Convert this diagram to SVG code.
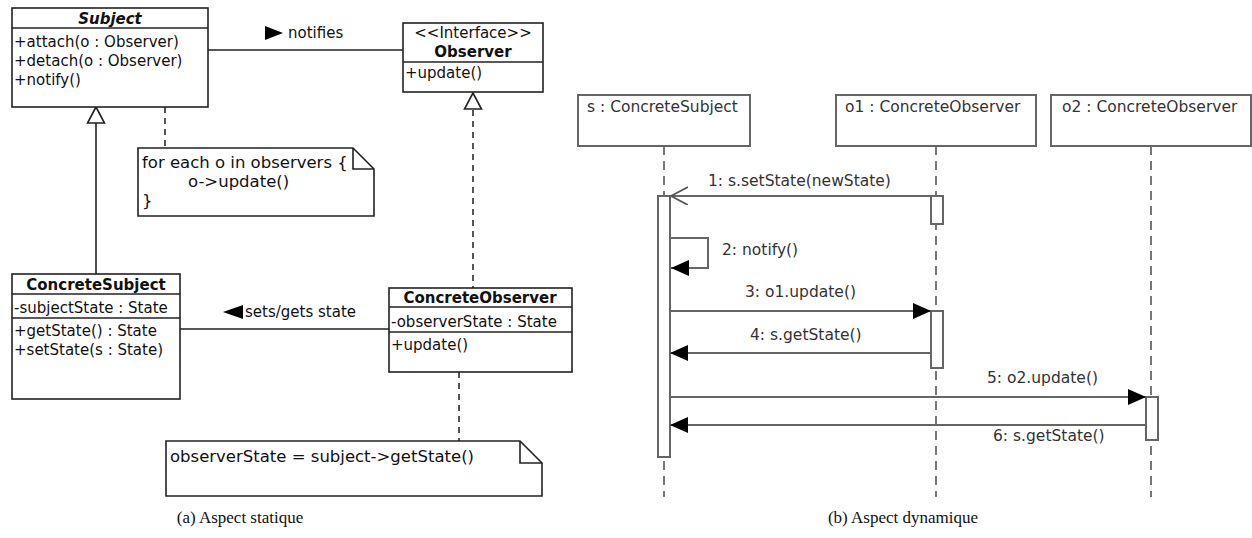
<svg xmlns="http://www.w3.org/2000/svg" width="1252" height="538" viewBox="0 0 1252 538">
<style>
  .cls { fill: #fff; stroke: #222; stroke-width: 1.6; }
  .sep { stroke: #222; stroke-width: 1.6; }
  .t { font-family: "DejaVu Sans", sans-serif; font-size: 15px; fill: #111; }
  .tb { font-family: "DejaVu Sans", sans-serif; font-size: 15px; font-weight: bold; fill: #111; }
  .note { font-family: "DejaVu Sans", sans-serif; font-size: 16.5px; fill: #111; }
  .ln { stroke: #222; stroke-width: 1.6; fill: none; }
  .dl { stroke: #444; stroke-width: 1.8; fill: none; stroke-dasharray: 6 5; }
  .tri { fill: #fff; stroke: #222; stroke-width: 1.6; }
  .obj { fill: #fff; stroke: #666; stroke-width: 2; }
  .life { stroke: #777; stroke-width: 2; stroke-dasharray: 9 6; fill: none; }
  .act { fill: #fff; stroke: #666; stroke-width: 2; }
  .msg { stroke: #666; stroke-width: 2; fill: none; }
  .st { font-family: "DejaVu Sans", sans-serif; font-size: 15.5px; fill: #333; }
  .cap { font-family: "Liberation Serif", serif; font-size: 17px; fill: #111; text-anchor: middle; }
</style>
<defs>
  <marker id="filled" markerWidth="20" markerHeight="18" refX="18" refY="8" orient="auto" markerUnits="userSpaceOnUse">
    <path d="M0,0 L18,8 L0,16 Z" fill="#000"/>
  </marker>
  <marker id="open" markerWidth="20" markerHeight="20" refX="17" refY="9" orient="auto" markerUnits="userSpaceOnUse">
    <path d="M0,0 L17,9 L0,18" fill="none" stroke="#555" stroke-width="1.8"/>
  </marker>
</defs>

<!-- ===== (a) static aspect ===== -->
<g id="connectors-static">
  <line class="ln" x1="208" y1="50" x2="403" y2="50"/>
  <line class="ln" x1="180" y1="329" x2="389" y2="329"/>
  <line class="ln" x1="96" y1="123" x2="96" y2="274"/>
  <polygon class="tri" points="96,107 87.5,123 104.5,123"/>
  <line class="dl" x1="473" y1="110" x2="473" y2="288"/>
  <polygon class="tri" points="473,93 464.5,109 481.5,109"/>
  <line class="dl" x1="165" y1="107" x2="165" y2="148"/>
  <line class="dl" x1="459" y1="372" x2="459" y2="441"/>
  <polygon points="265,26 283,33 265,40" fill="#000"/>
  <text class="t" x="288" y="38">notifies</text>
  <polygon points="243,305 223,312 243,319" fill="#000"/>
  <text class="t" x="245" y="317">sets/gets state</text>
</g>

<g id="subject">
  <rect class="cls" x="12" y="8" width="196" height="99"/>
  <line class="sep" x1="12" y1="28" x2="208" y2="28"/>
  <text class="tb" x="110" y="24" text-anchor="middle" font-style="italic">Subject</text>
  <text class="t" x="14" y="47">+attach(o : Observer)</text>
  <text class="t" x="14" y="66">+detach(o : Observer)</text>
  <text class="t" x="14" y="85">+notify()</text>
</g>

<g id="observer">
  <rect class="cls" x="403" y="23" width="140" height="69"/>
  <line class="sep" x1="403" y1="62" x2="543" y2="62"/>
  <text class="t" x="473" y="38" text-anchor="middle">&lt;&lt;Interface&gt;&gt;</text>
  <text class="tb" x="473" y="57" text-anchor="middle">Observer</text>
  <text class="t" x="405" y="78">+update()</text>
</g>

<g id="note-notify">
  <path class="cls" d="M138,148 L353,148 L374,169 L374,216 L138,216 Z"/>
  <path class="ln" d="M353,148 L353,169 L374,169"/>
  <text class="note" x="142" y="168">for each o in observers {</text>
  <text class="note" x="188" y="187">o-&gt;update()</text>
  <text class="note" x="142" y="206">}</text>
</g>

<g id="concrete-subject">
  <rect class="cls" x="12" y="274" width="168" height="125"/>
  <line class="sep" x1="12" y1="294" x2="180" y2="294"/>
  <line class="sep" x1="12" y1="318" x2="180" y2="318"/>
  <text class="tb" x="96" y="290" text-anchor="middle">ConcreteSubject</text>
  <text class="t" x="14" y="313">-subjectState : State</text>
  <text class="t" x="14" y="336">+getState() : State</text>
  <text class="t" x="14" y="355">+setState(s : State)</text>
</g>

<g id="concrete-observer">
  <rect class="cls" x="389" y="288" width="183" height="84"/>
  <line class="sep" x1="389" y1="307" x2="572" y2="307"/>
  <line class="sep" x1="389" y1="332" x2="572" y2="332"/>
  <text class="tb" x="480" y="303" text-anchor="middle">ConcreteObserver</text>
  <text class="t" x="391" y="327">-observerState : State</text>
  <text class="t" x="391" y="350">+update()</text>
</g>

<g id="note-getstate">
  <path class="cls" d="M166,441 L520,441 L542,463 L542,496 L166,496 Z"/>
  <path class="ln" d="M520,441 L520,463 L542,463"/>
  <text class="note" x="170" y="462">observerState = subject-&gt;getState()</text>
</g>

<text class="cap" x="240" y="523">(a) Aspect statique</text>

<!-- ===== (b) dynamic aspect ===== -->
<g id="lifelines">
  <line class="life" x1="664" y1="146" x2="664" y2="497"/>
  <line class="life" x1="936" y1="146" x2="936" y2="497"/>
  <line class="life" x1="1151" y1="146" x2="1151" y2="497"/>
</g>

<g id="obj-s">
  <rect class="obj" x="578" y="95" width="172" height="51"/>
  <text class="st" x="587" y="112">s : ConcreteSubject</text>
</g>
<g id="obj-o1">
  <rect class="obj" x="836" y="95" width="200" height="51"/>
  <text class="st" x="845" y="112">o1 : ConcreteObserver</text>
</g>
<g id="obj-o2">
  <rect class="obj" x="1051" y="95" width="200" height="51"/>
  <text class="st" x="1062" y="112">o2 : ConcreteObserver</text>
</g>

<g id="activations">
  <rect class="act" x="658" y="196" width="12" height="261"/>
  <rect class="act" x="931" y="196" width="12" height="28"/>
  <rect class="act" x="931" y="311" width="12" height="57"/>
  <rect class="act" x="1146" y="397" width="12" height="43"/>
</g>

<g id="messages">
  <line class="msg" x1="931" y1="196" x2="671" y2="196" marker-end="url(#open)"/>
  <text class="st" x="708" y="186">1: s.setState(newState)</text>
  <path class="msg" d="M670,238 L708,238 L708,268 L671,268" marker-end="url(#filled)"/>
  <text class="st" x="722" y="255">2: notify()</text>
  <line class="msg" x1="670" y1="311" x2="931" y2="311" marker-end="url(#filled)"/>
  <text class="st" x="745" y="297">3: o1.update()</text>
  <line class="msg" x1="931" y1="353" x2="670" y2="353" marker-end="url(#filled)"/>
  <text class="st" x="750" y="340">4: s.getState()</text>
  <line class="msg" x1="670" y1="397" x2="1146" y2="397" marker-end="url(#filled)"/>
  <text class="st" x="987" y="383">5: o2.update()</text>
  <line class="msg" x1="1146" y1="425" x2="670" y2="425" marker-end="url(#filled)"/>
  <text class="st" x="993" y="441">6: s.getState()</text>
</g>

<text class="cap" x="903" y="523">(b) Aspect dynamique</text>
</svg>
